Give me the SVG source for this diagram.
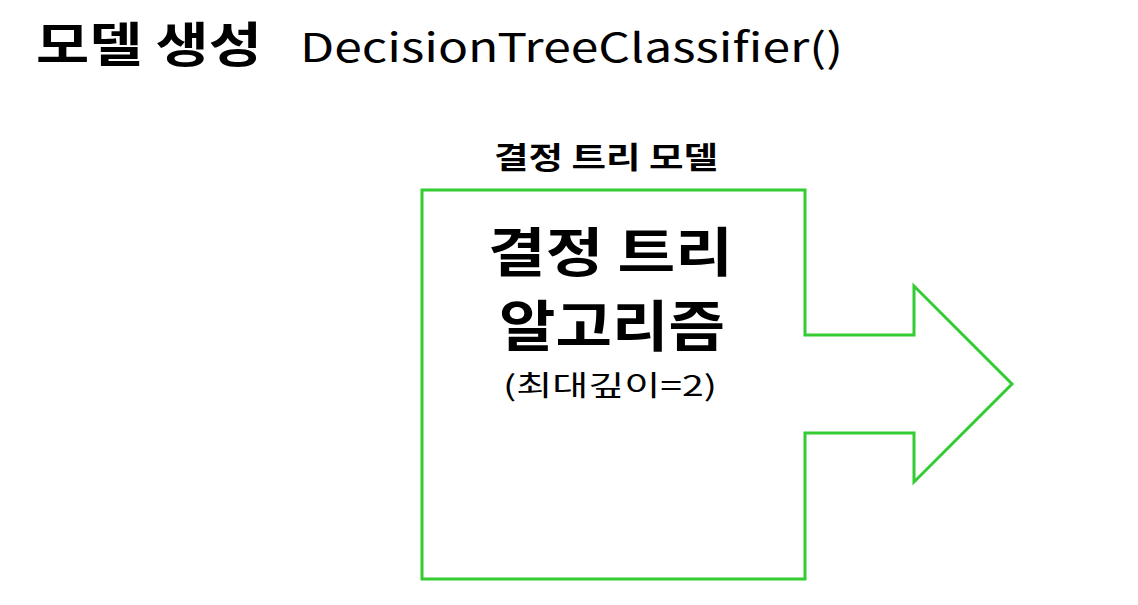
<svg xmlns="http://www.w3.org/2000/svg" width="1138" height="605" viewBox="0 0 1138 605">
<style>
.k{font-family:"Noto Sans CJK KR","Noto Sans",sans-serif;fill:#000}
.shape{fill:#fff;stroke:#33cc33;stroke-width:3;stroke-linejoin:miter}
</style>
<rect width="1138" height="605" fill="#fff"/>
<g id="title">
<text class="k" x="36" y="62" font-size="48" font-weight="700" textLength="226" lengthAdjust="spacingAndGlyphs">모델 생성</text>
<text class="k" x="300" y="62" font-size="40" font-weight="400" textLength="543" lengthAdjust="spacingAndGlyphs">DecisionTreeClassifier()</text>
</g>
<g id="model">
<polygon class="shape" points="422,190 805,190 805,335 914,335 914,286 1012,384 914,482 914,433 805,433 805,579 422,579"/>
<text class="k" x="494" y="168" font-size="30" font-weight="700" textLength="224" lengthAdjust="spacingAndGlyphs">결정 트리 모델</text>
<text class="k" x="488" y="272" font-size="53" font-weight="700" textLength="245" lengthAdjust="spacingAndGlyphs">결정 트리</text>
<text class="k" x="499" y="346" font-size="55" font-weight="700" textLength="226" lengthAdjust="spacingAndGlyphs">알고리즘</text>
<text class="k" x="503" y="396" font-size="28" font-weight="400" textLength="214" lengthAdjust="spacingAndGlyphs">(최대깊이=2)</text>
</g>
<g id="connectors"></g>
</svg>
